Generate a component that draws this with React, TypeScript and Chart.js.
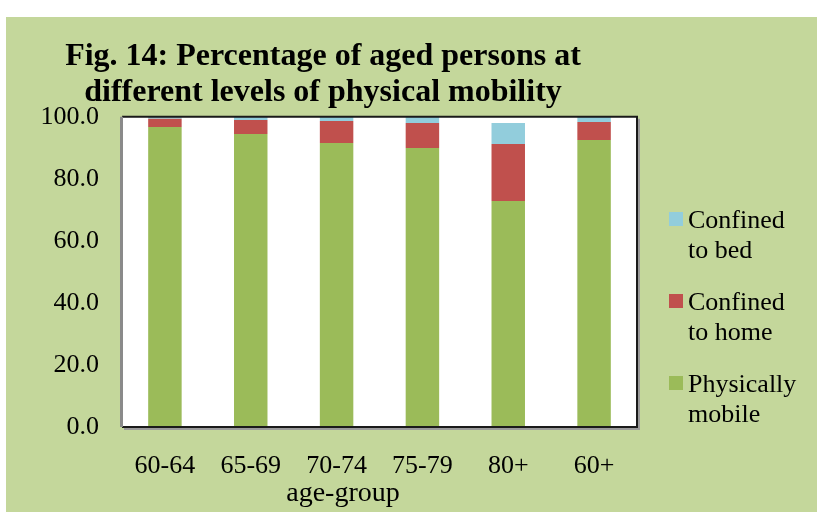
import React, { useEffect, useRef } from "react";
import { Chart, registerables } from "chart.js";

Chart.register(...registerables);

const CATEGORIES = ["60-64", "65-69", "70-74", "75-79", "80+", "60+"];
const PHYSICALLY_MOBILE = [96.7, 94.4, 91.5, 89.9, 72.8, 92.5];
const CONFINED_TO_HOME = [2.6, 4.5, 7.1, 8.1, 18.4, 5.8];
const CONFINED_TO_BED = [0.7, 1.1, 1.4, 2.0, 6.8, 1.7];
const SERIES_LABELS = [["Physically", "mobile"], ["Confined", "to home"], ["Confined", "to bed"]];
const SERIES_COLORS = ["#9BBB59", "#C0504D", "#92CDDC"];
const TITLE_LINES = ["Fig. 14: Percentage of aged persons at", "different levels of physical mobility"];
const X_AXIS_TITLE = "age-group";
const Y_MIN = 0;
const Y_MAX = 100;
const Y_STEP = 20;

const FONT = "'Liberation Serif', 'Times New Roman', serif";
const BG_GREEN = "#C4D79B";

const decorPlugin = {
  id: "decor",
  beforeDraw(chart: any) {
    const { ctx, width, height, chartArea } = chart;
    ctx.save();
    ctx.fillStyle = "#ffffff";
    ctx.fillRect(0, 0, width, height);
    ctx.fillStyle = BG_GREEN;
    ctx.fillRect(6, 17, width - 6, height - 17);
    ctx.fillStyle = "#ffffff";
    ctx.fillRect(chartArea.left, chartArea.top, chartArea.right - chartArea.left, chartArea.bottom - chartArea.top);
    ctx.restore();
  },
  afterDraw(chart: any) {
    const { ctx, chartArea } = chart;
    const { left, right, top, bottom } = chartArea;
    ctx.save();
    // frame shadow
    ctx.strokeStyle = "#9a9a9a";
    ctx.lineWidth = 2;
    ctx.beginPath();
    ctx.moveTo(right + 2, top + 2);
    ctx.lineTo(right + 2, bottom + 2);
    ctx.lineTo(left + 2, bottom + 2);
    ctx.stroke();
    // frame
    ctx.strokeStyle = "#1a1a1a";
    ctx.beginPath();
    ctx.moveTo(left, top);
    ctx.lineTo(right, top);
    ctx.lineTo(right, bottom);
    ctx.lineTo(left, bottom);
    ctx.stroke();
    ctx.strokeStyle = "#8a8a8a";
    ctx.lineWidth = 3;
    ctx.beginPath();
    ctx.moveTo(left - 0.5, top);
    ctx.lineTo(left - 0.5, bottom);
    ctx.stroke();

    // title
    ctx.fillStyle = "#000000";
    ctx.textAlign = "center";
    ctx.textBaseline = "alphabetic";
    ctx.font = `bold 32px ${FONT}`;
    TITLE_LINES.forEach((line, i) => {
      ctx.fillText(line, 323, 65 + i * 36);
    });

    // x axis title
    ctx.font = `28px ${FONT}`;
    ctx.fillText(X_AXIS_TITLE, 343, 501);

    // legend (reversed order)
    ctx.textAlign = "left";
    const n = chart.data.datasets.length;
    for (let k = 0; k < n; k++) {
      const di = n - 1 - k;
      const ds = chart.data.datasets[di];
      const y0 = 212 + k * 82;
      ctx.fillStyle = ds.backgroundColor;
      ctx.fillRect(669, y0, 14, 14);
      ctx.fillStyle = "#000000";
      ctx.font = `26px ${FONT}`;
      SERIES_LABELS[di].forEach((t, j) => {
        ctx.fillText(t, 688, y0 + 16 + j * 29.5);
      });
    }
    ctx.restore();
  },
};

export default function App() {
  const ref = useRef<HTMLCanvasElement | null>(null);
  useEffect(() => {
    if (!ref.current) return;
    const chart = new Chart(ref.current, {
      type: "bar",
      data: {
        labels: CATEGORIES,
        datasets: [
          { label: SERIES_LABELS[0].join(" "), data: PHYSICALLY_MOBILE, backgroundColor: SERIES_COLORS[0] },
          { label: SERIES_LABELS[1].join(" "), data: CONFINED_TO_HOME, backgroundColor: SERIES_COLORS[1] },
          { label: SERIES_LABELS[2].join(" "), data: CONFINED_TO_BED, backgroundColor: SERIES_COLORS[2] },
        ],
      },
      options: {
        responsive: false,
        animation: false,
        layout: { padding: { left: 0, top: 116.7, right: 180, bottom: 0 } },
        datasets: { bar: { barPercentage: 0.39, categoryPercentage: 1 } },
        plugins: {
          legend: { display: false },
          title: { display: false },
          tooltip: { enabled: false },
        },
        scales: {
          x: {
            stacked: true,
            grid: { display: false, drawTicks: false },
            border: { display: false },
            ticks: { color: "#000", font: { family: FONT, size: 26 }, padding: 24, maxRotation: 0 },
            afterFit: (s: any) => { s.height = 85; },
          },
          y: {
            stacked: true,
            min: Y_MIN,
            max: Y_MAX,
            grid: { display: false, drawTicks: false },
            border: { display: false },
            ticks: {
              stepSize: Y_STEP,
              color: "#000",
              font: { family: FONT, size: 26 },
              padding: 23,
              callback: (v: any) => Number(v).toFixed(1),
            },
            afterFit: (s: any) => { s.width = 122; },
          },
        },
      },
      plugins: [decorPlugin],
    });
    return () => chart.destroy();
  }, []);
  return (
    <div style={{ position: "absolute", left: 0, top: 0, width: 817, height: 512 }}>
      <canvas ref={ref} width={817} height={512} style={{ display: "block" }} />
    </div>
  );
}
